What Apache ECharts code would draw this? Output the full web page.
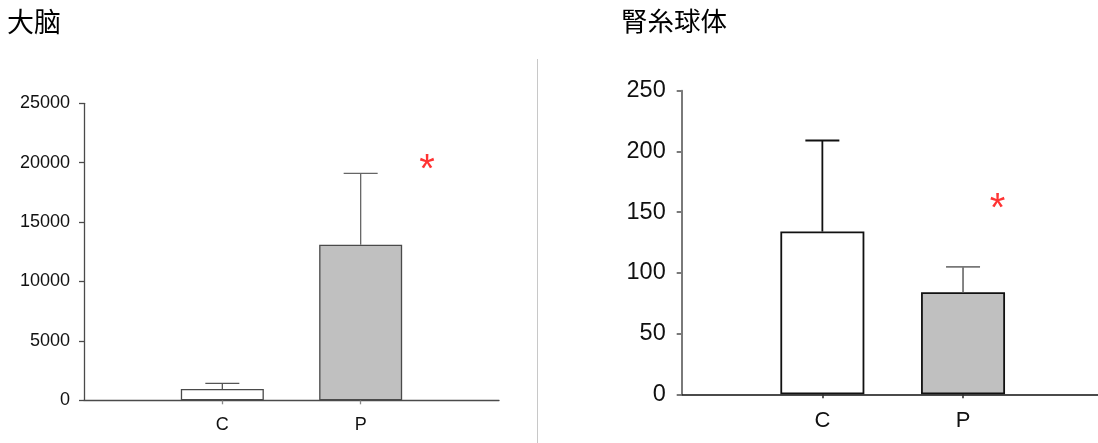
<!DOCTYPE html>
<html>
<head>
<meta charset="utf-8">
<title>大脑 / 腎糸球体</title>
<script src="https://cdn.jsdelivr.net/npm/echarts@6/dist/echarts.min.js"></script>
<style>
  html, body { margin: 0; padding: 0; background: #fff; }
  #chart { width: 1098px; height: 443px; }
</style>
</head>
<body>
<div id="chart"></div>
<script>
// Groups shown on both panels
const groups = ['C', 'P'];

// Brain: group means and mean + SD (top of the error whisker)
const brainMean = [950, 13100];
const brainUpper = [1430, 19100];
const brainTicks = [0, 5000, 10000, 15000, 20000, 25000];

// Glomerulus: group means and mean + SD
const glomMean = [134, 84];
const glomUpper = [209, 105];
const glomTicks = [0, 50, 100, 150, 200, 250];

// Significance marks, in each panel's (slot, value) space
const brainStar = [2.48, 19950];
const glomStar = [2.245, 158];

const barFills = ['#ffffff', '#c0c0c0'];

// Category slots: an empty slot on each side of the two groups
const slots = [''].concat(groups, ['']);

const FONT = '"Liberation Sans", Arial, sans-serif';

function catAxis(grid, opt) {
  return {
    gridIndex: grid,
    type: 'category',
    data: slots,
    boundaryGap: false,
    axisLine: { show: true, lineStyle: { color: opt.lineColor, width: opt.lineWidth } },
    axisTick: {
      show: true,
      interval: (i) => i > 0 && i <= groups.length,
      length: 4,
      inside: false,
      lineStyle: { color: opt.tickColor, width: opt.lineWidth }
    },
    axisLabel: {
      interval: 0,
      margin: opt.labelMargin,
      color: '#111',
      fontFamily: FONT,
      fontSize: opt.fontSize
    },
    splitLine: { show: false }
  };
}

function valAxis(grid, ticks, opt) {
  return {
    gridIndex: grid,
    type: 'value',
    min: ticks[0],
    max: ticks[ticks.length - 1],
    interval: ticks[1] - ticks[0],
    axisLine: { show: true, lineStyle: { color: opt.lineColor, width: opt.lineWidth } },
    axisTick: { show: true, length: 5, lineStyle: { color: opt.lineColor, width: opt.lineWidth } },
    axisLabel: {
      margin: opt.labelMargin,
      color: '#111',
      fontFamily: FONT,
      fontSize: opt.fontSize,
      formatter: (v) => String(v)
    },
    splitLine: { show: false }
  };
}

function barSeries(xi, yi, means, width, border, bw) {
  return {
    type: 'bar',
    xAxisIndex: xi,
    yAxisIndex: yi,
    barWidth: width,
    silent: true,
    z: 2,
    data: means.map((v, i) => ({
      value: [groups[i], v],
      itemStyle: { color: barFills[i], borderColor: border, borderWidth: bw }
    }))
  };
}

function errorSeries(xi, yi, means, uppers, colors, lw) {
  return {
    type: 'custom',
    xAxisIndex: xi,
    yAxisIndex: yi,
    silent: true,
    z: 3,
    data: means.map((m, i) => [i + 1, m, uppers[i], i]),
    renderItem: function (params, api) {
      const x = api.value(0);
      const base = api.coord([x, api.value(1)]);
      const top = api.coord([x, api.value(2)]);
      const c = colors[api.value(3)];
      const half = 17;
      const style = { stroke: c, lineWidth: lw };
      return {
        type: 'group',
        children: [
          { type: 'line', shape: { x1: base[0], y1: base[1], x2: top[0], y2: top[1] }, style: style },
          { type: 'line', shape: { x1: top[0] - half, y1: top[1], x2: top[0] + half, y2: top[1] }, style: style }
        ]
      };
    }
  };
}

function starSeries(xi, yi, pos) {
  return {
    type: 'scatter',
    xAxisIndex: xi,
    yAxisIndex: yi,
    silent: true,
    symbolSize: 1,
    itemStyle: { color: 'rgba(0,0,0,0)' },
    z: 4,
    data: [pos],
    label: {
      show: true,
      position: 'inside',
      formatter: '*',
      color: '#ff0000',
      fontFamily: FONT,
      fontSize: 40,
      offset: [0, 8]
    }
  };
}

const leftY = { lineColor: '#4a4a4a', lineWidth: 1.3, fontSize: 18, labelMargin: 14 };
const leftX = { lineColor: '#4a4a4a', tickColor: '#888', lineWidth: 1.3, fontSize: 18, labelMargin: 16 };
const rightY = { lineColor: '#7a7a7a', lineWidth: 2, fontSize: 23.5, labelMargin: 16 };
const rightX = { lineColor: '#111', tickColor: '#333', lineWidth: 1.6, fontSize: 22, labelMargin: 16 };

const chart = echarts.init(document.getElementById('chart'), null, { renderer: 'canvas' });

chart.setOption({
  animation: false,
  backgroundColor: '#ffffff',
  title: [
    { text: '大脑', left: 7, top: 8, padding: 0,
      textStyle: { fontFamily: '"Noto Sans CJK SC", sans-serif', fontSize: 27, fontWeight: 'normal', color: '#000' } },
    { text: '腎糸球体', left: 621, top: 8, padding: 0,
      textStyle: { fontFamily: '"Noto Sans CJK JP", sans-serif', fontSize: 26.5, fontWeight: 'normal', color: '#000' } }
  ],
  grid: [
    { left: 84, top: 103.3, width: 415, bottom: 42.7, outerBoundsMode: 'none' },
    { left: 681.7, top: 90.7, width: 422, bottom: 48.7, outerBoundsMode: 'none' }
  ],
  xAxis: [
    catAxis(0, leftX),
    catAxis(1, rightX),
    { gridIndex: 0, type: 'value', min: 0, max: 3, show: false },
    { gridIndex: 1, type: 'value', min: 0, max: 3, show: false }
  ],
  yAxis: [
    valAxis(0, brainTicks, leftY),
    valAxis(1, glomTicks, rightY)
  ],
  graphic: [
    { type: 'line', shape: { x1: 537.5, y1: 59, x2: 537.5, y2: 443 }, style: { stroke: '#c8c8c8', lineWidth: 1 }, silent: true }
  ],
  series: [
    barSeries(0, 0, brainMean, 83, '#4a4a4a', 1.3),
    errorSeries(0, 0, brainMean, brainUpper, ['#555', '#666'], 1.3),
    starSeries(2, 0, brainStar),
    barSeries(1, 1, glomMean, 84, '#111', 1.8),
    errorSeries(1, 1, glomMean, glomUpper, ['#111', '#777'], 1.8),
    starSeries(3, 1, glomStar)
  ]
});
</script>
</body>
</html>
